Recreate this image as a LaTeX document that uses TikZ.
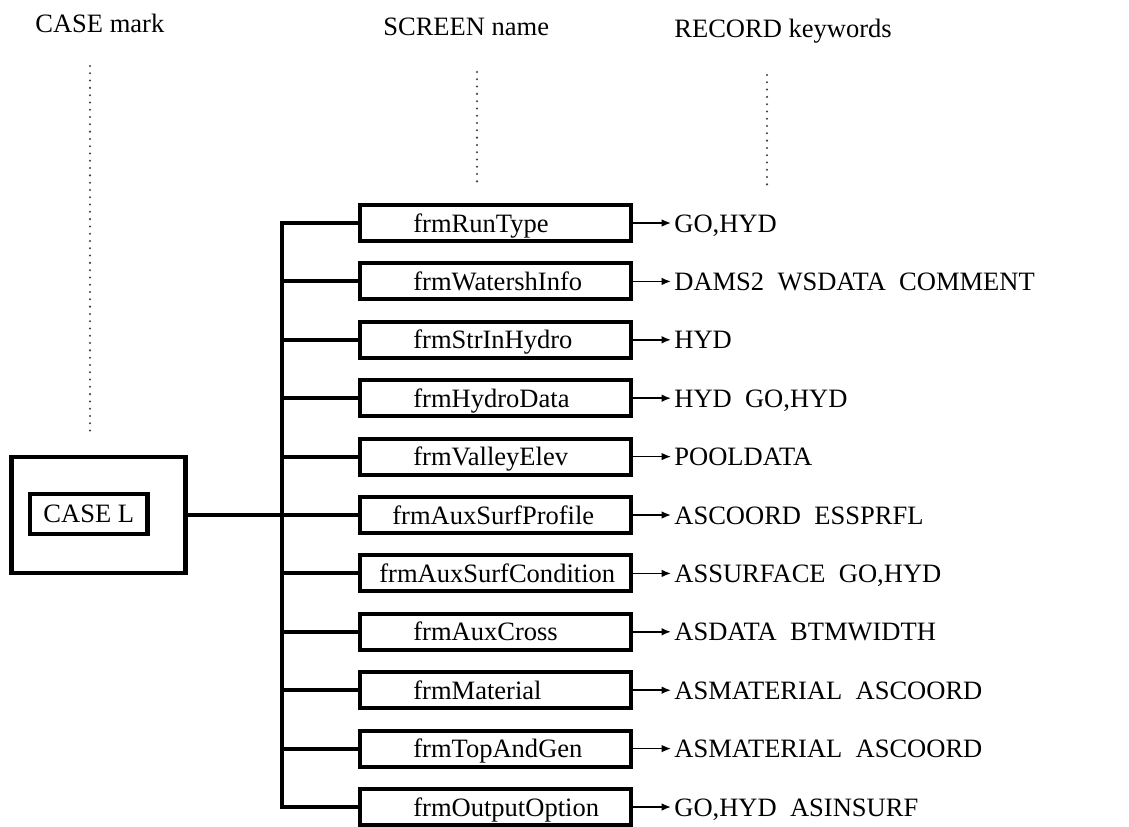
\documentclass[tikz,border=0pt]{standalone}
\usepackage{fontspec}
\setmainfont{Liberation Serif}
\usetikzlibrary{arrows.meta}

\begin{document}
\begin{tikzpicture}[x=0.02cm,y=-0.02cm,
          font=\fontsize{15.1}{18}\selectfont,
          bus/.style={line width=2.3pt},
          formbox/.style={draw,line width=2.3pt,minimum width=5.42cm,minimum height=0.72cm,inner sep=0pt},
          casebox/.style={draw,line width=2.3pt,inner sep=0pt},
          kwarrow/.style={line width=0.9pt,-{Latex[length=5.4pt,width=4.4pt]}},
          guide/.style={black!75,line width=1.3pt,line cap=round,dash pattern=on 0pt off 4.15pt}]
        \useasboundingbox (0,0) rectangle (1129,826);

        % column heads and their guide lines
        \node[anchor=base west,inner sep=0pt] (hcase) at (35,32) {CASE mark};
        \node[anchor=base west,inner sep=0pt] (hscreen) at (383,35) {SCREEN name};
        \node[anchor=base west,inner sep=0pt] (hrecord) at (674,37) {RECORD keywords};
        \coordinate (gca) at (90,66);
        \coordinate (gcb) at (90,433);
        \coordinate (gsa) at (477,72);
        \coordinate (gsb) at (477,183);
        \coordinate (gra) at (767,75);
        \coordinate (grb) at (767,185);
        \draw[guide] (gca) -- (gcb);
        \draw[guide] (gsa) -- (gsb);
        \draw[guide] (gra) -- (grb);

        % case mark
        \node[casebox,minimum width=3.48cm,minimum height=2.32cm] (caseout) at (98.5,515) {};
        \node[casebox,minimum width=2.35cm,minimum height=0.79cm] (casein) at (88.75,514) {CASE L};

        % screens and record keywords
        \foreach \lbl/\tx/\keys [count=\i] in {
            frmRunType/413/{GO,HYD},
            frmWatershInfo/413/{DAMS2~~WSDATA~~COMMENT},
            frmStrInHydro/413/{HYD},
            frmHydroData/413/{HYD~~GO,HYD},
            frmValleyElev/413/{POOLDATA},
            frmAuxSurfProfile/392/{ASCOORD~~ESSPRFL},
            frmAuxSurfCondition/379/{ASSURFACE~~GO,HYD},
            frmAuxCross/413/{ASDATA~~BTMWIDTH},
            frmMaterial/413/{ASMATERIAL~~ASCOORD},
            frmTopAndGen/413/{ASMATERIAL~~ASCOORD},
            frmOutputOption/413/{GO,HYD~~ASINSURF}} {
          \pgfmathsetmacro\y{223+(\i-1)*58.4}
          \pgfmathsetmacro\yb{\y+9}
          \node[formbox] (f\i) at (495.5,\y) {};
          \node[anchor=base west,inner sep=0pt] (t\i) at (\tx,\yb) {\lbl};
          \node[anchor=base west,inner xsep=1.7pt,inner ysep=0pt] (k\i) at (671,\yb) {\keys};
          \draw[kwarrow] (f\i.east) -- (f\i.east -| k\i.west);
        }

        % tree lines
        \coordinate (tr) at (282,223);
        \draw[bus] (f1.west) -- (tr) -- (tr |- f11.west) -- (f11.west);
        \foreach \i in {2,...,10}
          \draw[bus] (tr |- f\i.west) -- (f\i.west);
        \draw[bus] (caseout.east) -- (caseout.east -| tr);
      \end{tikzpicture}
\end{document}
